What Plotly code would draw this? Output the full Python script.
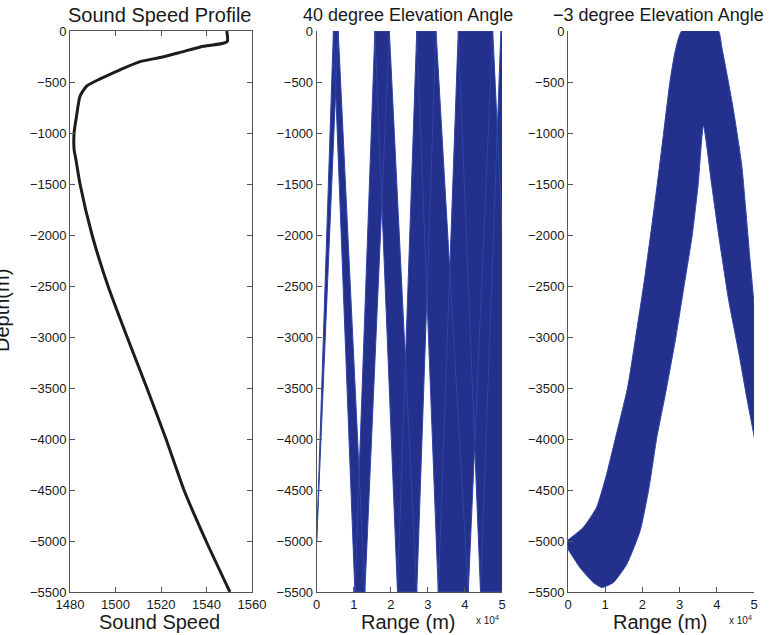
import plotly.graph_objects as go

# ---------------- data ----------------
# Sound speed profile (left panel)
ssp_depth_m = [0, -100, -120, -150, -210, -260, -300, -380, -470, -540, -640, -830,
               -1000, -1160, -1260, -1500, -2000, -2500, -3000, -3500, -4000, -4500,
               -5000, -5500]
ssp_speed_mps = [1548.9, 1549.2, 1547.4, 1538.6, 1528.4, 1519.6, 1510.8, 1502.0,
                 1493.2, 1487.3, 1484.4, 1482.9, 1481.8, 1481.8, 1482.6, 1484.4,
                 1489.7, 1496.7, 1505.1, 1513.8, 1522.2, 1530.1, 1539.8, 1550.3]

# 40 degree ray bundle (middle panel): range intervals where the bundle
# touches the surface (0 m) and the bottom (-5500 m)
source_range_m = 0
source_depth_m = -5000
surface_depth_m = 0
bottom_depth_m = -5500
surface_left_m = [4500, 15700, 27000, 38200, 49700]
surface_right_m = [5800, 19600, 32200, 47500, 60000]
bottom_left_m = [10300, 21800, 32800, 44200]
bottom_right_m = [13000, 27000, 40900, 54600]

# -3 degree ray bundle (right panel): outline of the filled bundle
m3_outline_range_m = [0, 4100, 7700, 10400, 12700, 16000, 18200, 20300, 22200, 24000,
                      25700, 27400, 28800, 30600, 40400, 41300, 44400, 46700, 48900,
                      50300, 52500, 50900, 50000, 48200, 45800, 43200, 40500, 38600,
                      36400, 35000, 33400, 31200, 29000, 26500, 23800, 21800, 19400,
                      15800, 12200, 9100, 6800, 3200, 0]
m3_outline_depth_m = [-4990, -4867, -4670, -4343, -4000, -3500, -3000, -2500, -2000,
                      -1500, -1000, -500, -200, 0, 0, -150, -759, -1316, -2232, -2788,
                      -3800, -4150, -3967, -3623, -3132, -2641, -2000, -1500, -923,
                      -1500, -2000, -2500, -3000, -3500, -4000, -4474, -4899, -5227,
                      -5407, -5456, -5407, -5260, -5080]

depth_ticks = list(range(0, -5501, -500))
speed_ticks = [1480, 1500, 1520, 1540, 1560]
range_ticks_m = [0, 10000, 20000, 30000, 40000, 50000]
range_tick_text = ["0", "1", "2", "3", "4", "5"]

# ---------------- figure ----------------
W, H = 769, 635
BLUE = "#23308c"
EDGE = "#2f43a6"
INK = "#1a1a1a"
AX = "#555555"


def fx(p):
    return p / W


def fy(p):
    return 1 - p / H


fig = go.Figure()

# left: sound speed profile
fig.add_trace(go.Scatter(x=ssp_speed_mps, y=ssp_depth_m, mode="lines",
                         line=dict(color="#1c1c1c", width=3, shape="spline", smoothing=0.6),
                         xaxis="x", yaxis="y", hoverinfo="skip"))

# middle: 40 degree bundle legs built from surface / bottom hit intervals
leg_x, leg_y = [], []
leg_x += [source_range_m, surface_left_m[0], surface_right_m[0], source_range_m, None]
leg_y += [source_depth_m, surface_depth_m, surface_depth_m, source_depth_m, None]
for k in range(len(bottom_left_m)):
    # downward leg: surface k -> bottom k
    leg_x += [surface_left_m[k], surface_right_m[k], bottom_right_m[k], bottom_left_m[k],
              surface_left_m[k], None]
    leg_y += [surface_depth_m, surface_depth_m, bottom_depth_m, bottom_depth_m,
              surface_depth_m, None]
    # upward leg: bottom k -> surface k+1
    leg_x += [bottom_left_m[k], surface_left_m[k + 1], surface_right_m[k + 1],
              bottom_right_m[k], bottom_left_m[k], None]
    leg_y += [bottom_depth_m, surface_depth_m, surface_depth_m, bottom_depth_m,
              bottom_depth_m, None]

fig.add_trace(go.Scatter(x=leg_x, y=leg_y, mode="lines", fill="toself",
                         fillcolor=BLUE, line=dict(color=EDGE, width=1.0),
                         xaxis="x2", yaxis="y2", hoverinfo="skip"))

# right: -3 degree bundle
fig.add_trace(go.Scatter(x=m3_outline_range_m, y=m3_outline_depth_m, mode="lines",
                         fill="toself", fillcolor=BLUE,
                         line=dict(color=EDGE, width=1.0, shape="spline", smoothing=0.5),
                         xaxis="x3", yaxis="y3", hoverinfo="skip"))

axis_common = dict(showline=True, linecolor=AX, linewidth=1, ticks="inside", ticklen=5,
                   tickcolor=AX, showgrid=False, zeroline=False, automargin=False,
                   tickfont=dict(size=13, color=INK), fixedrange=True)

ydom = [fy(592), fy(31)]

fig.update_layout(
    width=W, height=H,
    margin=dict(l=0, r=0, t=0, b=0, pad=0, autoexpand=False),
    paper_bgcolor="white", plot_bgcolor="white", showlegend=False,
    font=dict(family="Liberation Sans, Arial, Helvetica, sans-serif", color=INK, size=13),
    xaxis=dict(axis_common, domain=[fx(70), fx(252)], range=[1480, 1560],
               tickvals=speed_ticks, mirror="ticks", anchor="y"),
    yaxis=dict(axis_common, domain=ydom, range=[-5500, 0], tickvals=depth_ticks,
               mirror="ticks", anchor="x"),
    xaxis2=dict(axis_common, domain=[fx(316.7), fx(502)], range=[0, 50000],
                tickvals=range_ticks_m, ticktext=range_tick_text, anchor="y2"),
    yaxis2=dict(axis_common, domain=ydom, range=[-5500, 0], tickvals=depth_ticks,
                anchor="x2"),
    xaxis3=dict(axis_common, domain=[fx(568), fx(754)], range=[0, 50000],
                tickvals=range_ticks_m, ticktext=range_tick_text, anchor="y3"),
    yaxis3=dict(axis_common, domain=ydom, range=[-5500, 0], tickvals=depth_ticks,
                anchor="x3"),
)

ann = []


def add_text(text, x, y, size, **kw):
    d = dict(text=text, x=fx(x), y=fy(y), xref="paper", yref="paper",
             showarrow=False, xanchor="center", yanchor="middle",
             font=dict(size=size, color=INK))
    d.update(kw)
    ann.append(d)


add_text("Sound Speed Profile", 159, 15, 20)
add_text("40 degree Elevation Angle", 407.5, 15, 18)
add_text("\u22123 degree Elevation Angle", 658, 15, 18)
add_text("Sound Speed", 159, 622, 20)
add_text("Range (m)", 408, 622, 20)
add_text("Range (m)", 660, 622, 20)
add_text("x 10<sup>4</sup>", 487, 620, 10)
add_text("x 10<sup>4</sup>", 740, 620, 10)
add_text("Depth(m)", 2, 311, 20, textangle=-90)

fig.update_layout(annotations=ann)

fig.write_html("out.html")
